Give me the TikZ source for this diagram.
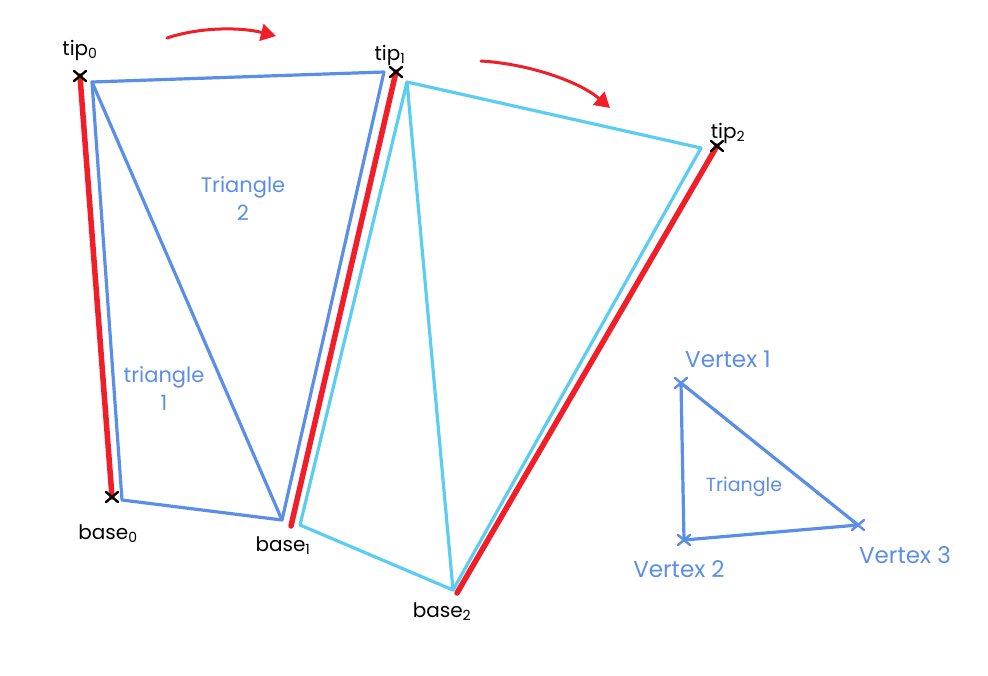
\documentclass[tikz,border=0pt]{standalone}
\usepackage{fontspec}
\setmainfont{Poppins}
\usetikzlibrary{arrows.meta,calc}
\definecolor{midblue}{HTML}{5B8EE6}
\definecolor{lightblue}{HTML}{5CCDF2}
\definecolor{penred}{HTML}{F01E28}
\tikzset{
  redline/.style={draw=penred,line width=5.5pt,line cap=round},
  blueline/.style={draw=midblue,line width=3.2pt,line cap=round,line join=round},
  cyanline/.style={draw=lightblue,line width=3.2pt,line cap=round,line join=round},
  redarrow/.style={draw=penred,line width=3pt,line cap=round,-{Triangle[length=15pt,width=17pt]}},
  blacklabel/.style={text=black,font=\fontsize{20}{22}\selectfont,inner sep=1pt},
  bluelabel/.style={text=midblue,font=\fontsize{23}{25}\selectfont,inner sep=1pt},
  tlabel/.style={text=midblue,font=\fontsize{21}{24}\selectfont,align=center,inner sep=1pt},
}
\newcommand{\crossmark}[2]{\draw[#2,line width=2.4pt,line cap=round] ($(#1)+(-6,-5)$) -- ($(#1)+(6,5)$) ($(#1)+(-6,5)$) -- ($(#1)+(6,-5)$);}
\begin{document}
\begin{tikzpicture}[x=1pt,y=-1pt]
\useasboundingbox (0,0) rectangle (988,675);
% points
\coordinate (tip0) at (80,76);
\coordinate (base0) at (112,497);
\coordinate (tip1) at (396,72);
\coordinate (base1) at (291,526);
\coordinate (tip2) at (717,146);
\coordinate (base2) at (457,593);
% blue triangles
\coordinate (b0) at (92,82);
\coordinate (b1) at (122,500);
\coordinate (b2) at (282,520);
\coordinate (b3) at (384,72);
\draw[blueline] (b0) -- (b3) -- (b2) -- (b1) -- cycle;
\draw[blueline] (b0) -- (b2);
% cyan triangles
\coordinate (c0) at (407,82);
\coordinate (c1) at (300,525);
\coordinate (c2) at (453,590);
\coordinate (c3) at (701,148);
\draw[cyanline] (c0) -- (c3) -- (c2) -- (c1) -- cycle;
\draw[cyanline] (c0) -- (c2);
% red edges
\draw[redline] (tip0) -- (base0);
\draw[redline] (tip1) -- (base1);
\draw[redline] (tip2) -- (base2);
% crosses
\crossmark{tip0}{black}
\crossmark{base0}{black}
\crossmark{tip1}{black}
\crossmark{tip2}{black}
% labels
\node[blacklabel] (ltip0) at (80,50) {tip\textsubscript{0}};
\node[blacklabel] (ltip1) at (390,55) {tip\textsubscript{1}};
\node[blacklabel] (ltip2) at (728,133) {tip\textsubscript{2}};
\node[blacklabel] (lbase0) at (108,534) {base\textsubscript{0}};
\node[blacklabel] (lbase1) at (283,546) {base\textsubscript{1}};
\node[blacklabel] (lbase2) at (442,612) {base\textsubscript{2}};
\node[tlabel] (ltri2) at (243,199) {Triangle\\[4pt]2};
\node[tlabel] (ltri1) at (164,389) {triangle\\[4pt]1};
% arrows
\coordinate (a1s) at (167,38);
\coordinate (a1e) at (276,36);
\draw[redarrow] (a1s) .. controls (200,27) and (240,27) .. (a1e);
\coordinate (a2s) at (481,61);
\coordinate (a2e) at (610,108);
\draw[redarrow] (a2s) .. controls (530,64) and (580,82) .. (a2e);
% small triangle
\coordinate (v1) at (681,383);
\coordinate (v2) at (684,540);
\coordinate (v3) at (858,525);
\draw[blueline] (v1) -- (v2) -- (v3) -- cycle;
\crossmark{v1}{midblue}
\crossmark{v2}{midblue}
\crossmark{v3}{midblue}
\node[bluelabel] (lv1) at (728,359) {Vertex 1};
\node[bluelabel] (lv2) at (679,569) {Vertex 2};
\node[bluelabel] (lv3) at (905,555) {Vertex 3};
\node[text=midblue,font=\fontsize{19}{21}\selectfont] (ltri) at (744,487) {Triangle};
\end{tikzpicture}
\end{document}
